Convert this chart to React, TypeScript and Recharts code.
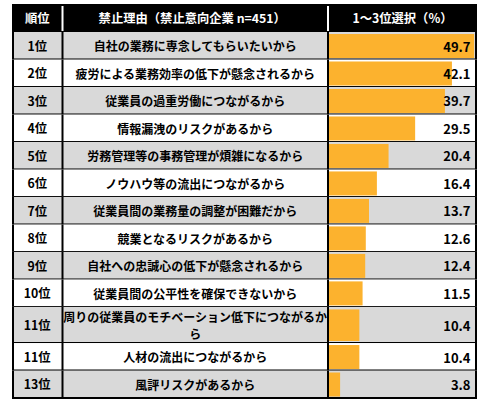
import { BarChart, Bar, XAxis, YAxis, ReferenceArea, LabelList, Customized } from 'recharts';

const headRank = '順位';
const headReason = '禁止理由（禁止意向企業 n=451）';
const headValue = '1～3位選択（%）';

const ranks = ['1位', '2位', '3位', '4位', '5位', '6位', '7位', '8位', '9位', '10位', '11位', '11位', '13位'];

const reasons = [
  '自社の業務に専念してもらいたいから',
  '疲労による業務効率の低下が懸念されるから',
  '従業員の過重労働につながるから',
  '情報漏洩のリスクがあるから',
  '労務管理等の事務管理が煩雑になるから',
  'ノウハウ等の流出につながるから',
  '従業員間の業務量の調整が困難だから',
  '競業となるリスクがあるから',
  '自社への忠誠心の低下が懸念されるから',
  '従業員間の公平性を確保できないから',
  '周りの従業員のモチベーション低下につながるから',
  '人材の流出につながるから',
  '風評リスクがあるから',
];

const values = [49.7, 42.1, 39.7, 29.5, 20.4, 16.4, 13.7, 12.6, 12.4, 11.5, 10.4, 10.4, 3.8];

const ORANGE = '#FCB22E';
const GRAY = '#D9D9D9';
const FONT = '"Noto Sans CJK JP", "Noto Sans", sans-serif';
const NUM_FONT = '"Liberation Sans Narrow", "Noto Sans CJK JP", sans-serif';

const W = 483;
const H = 404;
const TABLE_L = 12;
const TABLE_R = 477;
const COL1 = 62.5;
const COL2 = 328;
const PLOT_R = 475;
const WRAP = 22; // chars per line in the reason column

// row height in "row units": wrapped rows are taller
let acc = 0;
const data = reasons.map((r, i) => {
  const lines: string[] = [];
  for (let k = 0; k < r.length; k += WRAP) lines.push(r.slice(k, k + WRAP));
  const units = lines.length > 1 ? 1.315 : 1;
  const top = acc;
  acc += units;
  return { i, rank: ranks[i], lines, value: values[i], units, top, bottom: acc, mid: (top + acc) / 2 };
});
const TOTAL = acc;

type Row = (typeof data)[number];

const textStyle = { fontFamily: FONT, fontWeight: 700, fontSize: 12 };
const headStyle = { fontFamily: FONT, fontWeight: 700, fontSize: 12.3 };

const RowCells = ({ y, height, row }: { y: number; height: number; row: Row }) => {
  const cy = y + height / 2;
  const off = row.lines.length > 1 ? 8.3 : 0;
  return (
    <g>
      <rect x={TABLE_L} y={y} width={TABLE_R - TABLE_L} height={height} fill={row.i % 2 === 0 ? GRAY : '#fff'} />
      <line x1={TABLE_L} x2={TABLE_R} y1={y + height} y2={y + height} stroke="#000" strokeWidth={2} />
      {[TABLE_L + 1, COL1, COL2, TABLE_R - 1].map((x) => (
        <line key={x} x1={x} x2={x} y1={y} y2={y + height} stroke="#000" strokeWidth={2} />
      ))}
      <text x={(TABLE_L + COL1) / 2} y={cy} textAnchor="middle" dominantBaseline="central" fill="#000" style={headStyle}>
        {row.rank}
      </text>
      {row.lines.map((ln, k) => (
        <text
          key={k}
          x={(COL1 + COL2) / 2}
          y={cy - off + k * 2 * off}
          textAnchor="middle"
          dominantBaseline="central"
          fill="#000"
          style={textStyle}
        >
          {ln}
        </text>
      ))}
    </g>
  );
};

const Header = () => (
  <g>
    <rect x={TABLE_L} y={4} width={TABLE_R - TABLE_L} height={28} fill="#000" />
    <line x1={COL1} x2={COL1} y1={6} y2={31} stroke="#fff" strokeWidth={2} />
    <line x1={COL2} x2={COL2} y1={6} y2={31} stroke="#fff" strokeWidth={2} />
    <text x={(TABLE_L + COL1) / 2} y={18} textAnchor="middle" dominantBaseline="central" fill="#fff" style={headStyle}>
      {headRank}
    </text>
    <text x={(COL1 + COL2) / 2 - 3} y={18} textAnchor="middle" dominantBaseline="central" fill="#fff" style={headStyle}>
      {headReason}
    </text>
    <text x={(COL2 + TABLE_R) / 2} y={18} textAnchor="middle" dominantBaseline="central" fill="#fff" style={headStyle}>
      {headValue}
    </text>
  </g>
);

const BarShape = (p: any) => {
  const u = p.units ?? p.payload?.units ?? 1;
  const h = p.height * u;
  return <rect x={p.x} y={p.y + p.height / 2 - h / 2} width={p.width} height={h} fill={ORANGE} />;
};

const ValueLabel = (p: any) => {
  const vb = p.viewBox ?? p;
  return (
    <text
      x={PLOT_R - 4.5}
      y={vb.y + vb.height / 2}
      textAnchor="end"
      dominantBaseline="central"
      fill="#000"
      style={{ fontFamily: NUM_FONT, fontWeight: 700, fontSize: 13 }}
    >
      {Number(p.value).toFixed(1)}
    </text>
  );
};

export default function App() {
  return (
    <div style={{ position: 'absolute', left: 0, top: 0, width: W, height: H, background: '#fff' }}>
      <BarChart
        width={W}
        height={H}
        data={data}
        layout="vertical"
        margin={{ top: 32, right: W - PLOT_R, bottom: 6, left: 329 }}
      >
        <XAxis type="number" domain={[0, 50]} hide />
        <YAxis type="number" dataKey="mid" domain={[0, TOTAL]} hide />
        {data.map((d) => (
          <ReferenceArea
            key={d.i}
            y1={d.top}
            y2={d.bottom}
            ifOverflow="visible"
            shape={(p: any) => <RowCells y={p.y} height={p.height} row={d} />}
          />
        ))}
        <Bar dataKey="value" barSize={24} fill={ORANGE} shape={BarShape} isAnimationActive={false}>
          <LabelList dataKey="value" content={ValueLabel} />
        </Bar>
        <Customized component={Header} />
      </BarChart>
    </div>
  );
}
